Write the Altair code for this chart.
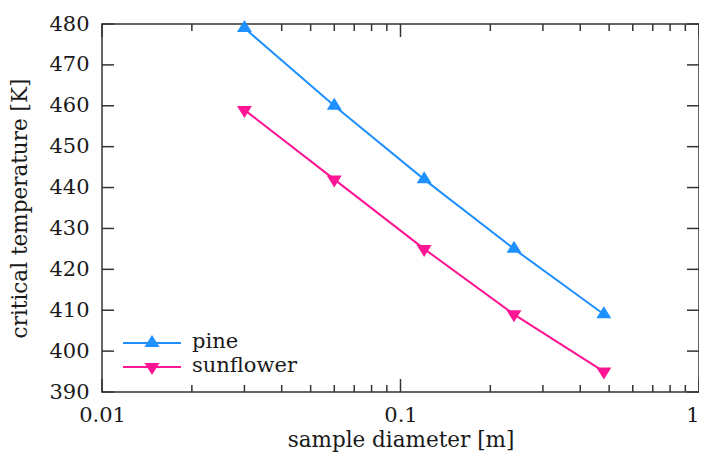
import altair as alt
import pandas as pd

# ---- data ----
diameter = [0.03, 0.06, 0.12, 0.24, 0.48]
pine = [479, 460, 442, 425, 409]
sunflower = [459, 442, 425, 409, 395]
series_names = ["pine", "sunflower"]
series_colors = ["#1E90FF", "#FF1493"]

x_major = [0.01, 0.1, 1]
x_minor = [0.02, 0.03, 0.04, 0.05, 0.06, 0.07, 0.08, 0.09,
           0.2, 0.3, 0.4, 0.5, 0.6, 0.7, 0.8, 0.9]
y_ticks = [390, 400, 410, 420, 430, 440, 450, 460, 470, 480]

rows = []
for name, vals in zip(series_names, [pine, sunflower]):
    for d, t in zip(diameter, vals):
        rows.append({"x": d, "t": t, "series": name})
df = pd.DataFrame(rows)
df_leg = pd.DataFrame({"series": series_names})

df_xmaj = pd.DataFrame({"x": x_major})
df_xmin = pd.DataFrame({"x": x_minor})
df_y = pd.DataFrame({"t": y_ticks})

W, H = 597, 368
FONT = "DejaVu Serif"
TXT = "#1a1a1a"
FRAME = "#333333"

UP = "M0,-1.07L1,0.53L-1,0.53Z"
DOWN = "M0,1.07L1,-0.53L-1,-0.53Z"

x_scale = alt.Scale(type="log", domain=[0.01, 1], nice=False)
y_scale = alt.Scale(domain=[390, 480], nice=False, zero=False)

x_axis = alt.Axis(values=x_major, format="~g", ticks=False, tickSize=0,
                  domain=False, grid=False, labelFlush=False,
                  labelAlign={"condition": {"test": "datum.value >= 1", "value": "right"},
                              "value": "center"},
                  labelFont=FONT, labelFontSize=21, labelColor=TXT,
                  labelPadding=12, title="sample diameter [m]",
                  titleFont=FONT, titleFontSize=21.5, titleFontWeight="normal",
                  titleColor=TXT, titlePadding=4)
y_axis = alt.Axis(values=y_ticks, ticks=False, tickSize=0, domain=False,
                  grid=False, labelFont=FONT, labelFontSize=21,
                  labelColor=TXT, labelPadding=13,
                  title="critical temperature [K]", titleFont=FONT,
                  titleFontSize=21.5, titleFontWeight="normal",
                  titleColor=TXT, titlePadding=17)


def X():
    return alt.X("x:Q", scale=x_scale, axis=x_axis)


def Y():
    return alt.Y("t:Q", scale=y_scale, axis=y_axis)


color_scale = alt.Scale(domain=series_names, range=series_colors)
COLOR = alt.Color("series:N", scale=color_scale, legend=None)

base = alt.Chart(df)

lines = base.mark_line(strokeWidth=2).encode(x=X(), y=Y(), color=COLOR)

pts_pine = base.transform_filter(alt.datum.series == "pine").mark_point(
    shape=UP, filled=True, size=225, opacity=1
).encode(x=X(), y=Y(), color=COLOR)

pts_sun = base.transform_filter(alt.datum.series == "sunflower").mark_point(
    shape=DOWN, filled=True, size=225, opacity=1
).encode(x=X(), y=Y(), color=COLOR)

tick_kw = dict(color=FRAME, strokeWidth=1.5)

xb_maj = alt.Chart(df_xmaj).mark_rule(**tick_kw).encode(
    x=X(), y=alt.value(H), y2=alt.value(H - 13))
xt_maj = alt.Chart(df_xmaj).mark_rule(**tick_kw).encode(
    x=X(), y=alt.value(0), y2=alt.value(13))
xb_min = alt.Chart(df_xmin).mark_rule(**tick_kw).encode(
    x=X(), y=alt.value(H), y2=alt.value(H - 7))
xt_min = alt.Chart(df_xmin).mark_rule(**tick_kw).encode(
    x=X(), y=alt.value(0), y2=alt.value(7))
yl = alt.Chart(df_y).mark_rule(**tick_kw).encode(
    y=Y(), x=alt.value(0), x2=alt.value(12))
yr = alt.Chart(df_y).mark_rule(**tick_kw).encode(
    y=Y(), x=alt.value(W), x2=alt.value(W - 12))

plot = alt.layer(xb_maj, xt_maj, xb_min, xt_min, yl, yr,
                 lines, pts_pine, pts_sun)

# ---- key (lower left, inside the frame) ----
LY = alt.Y("series:N", axis=None,
           scale=alt.Scale(domain=series_names, range=[307, 355]))
leg_base = alt.Chart(df_leg)
leg_line = leg_base.mark_rule(strokeWidth=2).encode(
    y=LY, x=alt.value(21), x2=alt.value(79), color=COLOR)
leg_pts = leg_base.mark_point(filled=True, size=225, opacity=1).encode(
    y=LY, x=alt.value(50), color=COLOR,
    shape=alt.Shape("series:N", scale=alt.Scale(domain=series_names, range=[UP, DOWN]),
                    legend=None))
leg_txt = leg_base.mark_text(align="left", baseline="alphabetic", dy=5,
                             font=FONT, fontSize=21, color=TXT).encode(
    y=LY, x=alt.value(90), text="series:N")
key = alt.layer(leg_line, leg_pts, leg_txt)

chart = alt.layer(plot, key).resolve_scale(y="independent").properties(
    width=W, height=H,
    autosize=alt.AutoSizeParams(type="none"),
    padding={"left": 94, "top": 16, "right": 0, "bottom": 62},
    background="white",
).configure_view(stroke=FRAME, strokeWidth=1.5)

chart.save("out.html", embed_options={"renderer": "svg", "actions": False})
